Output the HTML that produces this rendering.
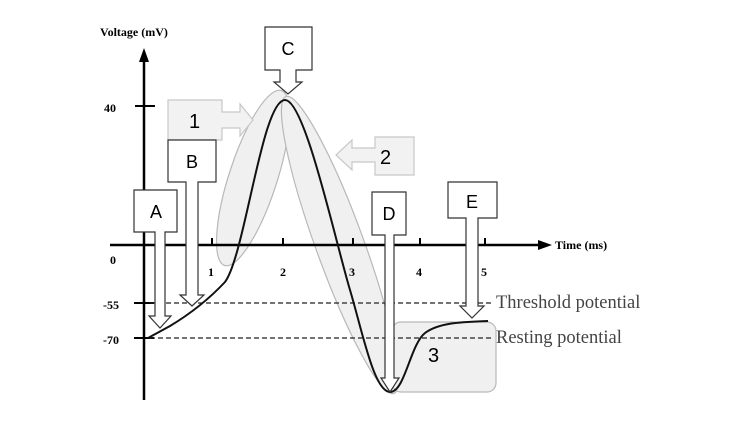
<!DOCTYPE html>
<html><head><style>body{margin:0;background:#fff}svg{display:block}</style></head><body>
<svg width="750" height="430" viewBox="0 0 750 430" xmlns="http://www.w3.org/2000/svg">
<rect width="750" height="430" fill="#fff"/>
<!-- highlight shapes -->
<ellipse cx="253" cy="178" rx="24" ry="92" transform="rotate(18 253 178)" fill="#f0f0f0" stroke="#b8b8b8" stroke-width="1.2"/>
<ellipse cx="340" cy="245" rx="24" ry="158" transform="rotate(-20 340 245)" fill="#f0f0f0" stroke="#b8b8b8" stroke-width="1.2"/>
<rect x="392" y="322" width="104" height="70" rx="9" fill="#f0f0f0" stroke="#b8b8b8" stroke-width="1.2"/>
<!-- axes -->
<line x1="144" y1="400" x2="144" y2="60" stroke="#000" stroke-width="2.5"/>
<polygon points="144,48 139,62 149,62" fill="#000"/>
<line x1="110" y1="245" x2="542" y2="245" stroke="#000" stroke-width="2.5"/>
<polygon points="552,245 538,240 538,250" fill="#000"/>
<g stroke="#000" stroke-width="2">
<line x1="135" y1="106" x2="155" y2="106"/>
<line x1="134" y1="303" x2="154" y2="303"/>
<line x1="134" y1="338" x2="154" y2="338"/>
<line x1="212" y1="238" x2="212" y2="245"/><line x1="283" y1="238" x2="283" y2="245"/>
<line x1="353" y1="238" x2="353" y2="245"/><line x1="420" y1="238" x2="420" y2="245"/><line x1="485" y1="238" x2="485" y2="245"/>
</g>
<g stroke="#222" stroke-width="1.3" stroke-dasharray="5,3">
<line x1="150" y1="303" x2="492" y2="303"/>
<line x1="150" y1="338" x2="492" y2="338"/>
</g>
<g font-family="Liberation Serif, serif" font-weight="bold" font-size="12" fill="#000">
<text x="100" y="36">Voltage (mV)</text>
<text x="555" y="249">Time (ms)</text>
<text x="104" y="112">40</text>
<text x="110" y="264">0</text>
<text x="103" y="309">-55</text>
<text x="103" y="344">-70</text>
<text x="208" y="276">1</text><text x="280" y="276">2</text><text x="349" y="276">3</text><text x="416" y="276">4</text><text x="481" y="276">5</text>
</g>
<g font-family="Liberation Serif, serif" font-size="18.5" fill="#444">
<text x="496" y="308">Threshold potential</text>
<text x="496" y="343">Resting potential</text>
</g>
<!-- curve -->
<path d="M148,338 L170,326 C190,314 210,298 225,282 C245,255 262,100 285,100 C305,100 335,240 350,290 C362,330 374,392 390,392 C405,392 410,345 425,333 C440,322 465,322 488,321" fill="none" stroke="#111" stroke-width="2"/>
<!-- gray callouts -->
<g fill="#f2f2f2" stroke="#c8c8c8" stroke-width="1.2">
<polygon points="168,100 222,100 222,112 240,112 240,104 253,120 240,136 240,128 222,128 222,140 168,140"/>
<polygon points="414,137 414,175 375,175 375,162 352,162 352,170 336,155 352,140 352,148 375,148 375,137"/>
</g>
<g font-family="Liberation Sans, sans-serif" font-size="20" fill="#000">
<text x="189" y="128">1</text><text x="380" y="164">2</text><text x="428" y="362">3</text>
</g>
<!-- white callouts -->
<g fill="#fff" stroke="#333" stroke-width="1.2">
<polygon points="134,190 177,190 177,232 165,232 165,316 171,316 160,328 149,316 155,316 155,232 134,232"/>
<polygon points="168,140 216,140 216,182 198,182 198,295 204,295 192,306 180,295 186,295 186,182 168,182"/>
<polygon points="265,27 312,27 312,70 296,70 296,82 302,82 288,94 274,82 280,82 280,70 265,70"/>
<polygon points="372,192 406,192 406,235 394,235 394,378 399,378 390,392 381,378 385,378 385,235 372,235"/>
<polygon points="448,182 497,182 497,218 478,218 478,306 484,306 472,318 460,306 466,306 466,218 448,218"/>
</g>
<g font-family="Liberation Sans, sans-serif" font-size="18" fill="#000" text-anchor="middle">
<text x="156" y="218">A</text><text x="192" y="168">B</text><text x="288" y="55">C</text><text x="389" y="220">D</text><text x="472" y="208">E</text>
</g>
</svg>
</body></html>
